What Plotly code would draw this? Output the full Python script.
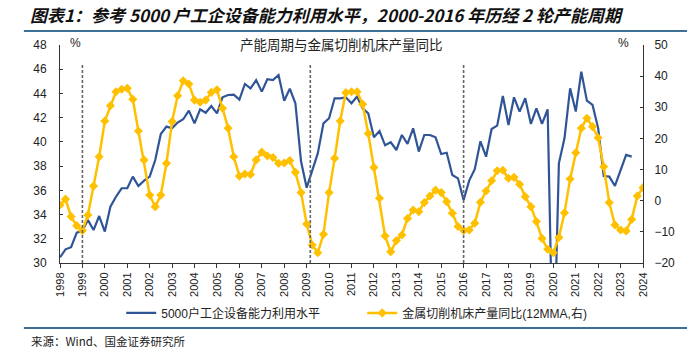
import pandas as pd
import plotly.graph_objects as go

# Quarterly observations
START = "1998-01-01"

util_5000 = [
    30.47, 31.13, 31.3, 32.5,      # 1998
    32.67, 33.55, 32.72, 33.88,    # 1999
    32.6, 34.65, 35.47, 36.17,     # 2000
    36.17, 37.13, 36.36, 36.8,     # 2001
    37.13, 38.5, 40.65, 41.26,     # 2002
    41.12, 41.6, 41.87, 42.58,     # 2003
    41.53, 42.69, 42.41, 42.96,    # 2004
    42.36, 43.68, 43.87, 43.9,     # 2005
    43.5, 44.78, 44.42, 45.1,      # 2006
    44.15, 45.17, 45.1, 45.52,     # 2007
    43.4, 44.4, 43.19, 38.4,       # 2008
    36.22, 37.68, 39.05, 41.53,    # 2009
    41.95, 43.6, 43.6, 43.68,      # 2010
    43.19, 43.74, 42.77, 42.36,    # 2011
    40.38, 40.9, 39.72, 39.97,     # 2012
    39.33, 40.57, 39.83, 41.12,    # 2013
    39.2, 40.57, 40.57, 40.38,     # 2014
    39.0, 39.1, 37.27, 36.99,      # 2015
    35.2, 36.8, 37.75, 40.05,      # 2016
    38.78, 41.06, 41.34, 43.79,    # 2017
    41.4, 43.68, 42.5, 43.6,       # 2018
    41.48, 42.77, 41.48, 42.69,    # 2019
    20.0, 38.23, 40.3, 44.42,      # 2020
    42.5, 45.8, 43.4, 43.05,       # 2021
    41.12, 37.18, 37.13, 36.36,    # 2022
    37.68, 38.92, 38.78,           # 2023
]

machine_tool_yoy = [
    -1.4, 0.5, -5.1, -8.0,         # 1998
    -9.6, -4.6, 4.7, 14.1,         # 1999
    25.6, 30.5, 35.0, 35.8,        # 2000
    36.1, 32.6, 22.4, 13.1,        # 2001
    1.8, -1.9, 1.8, 12.0,          # 2002
    25.4, 33.7, 38.5, 37.5,        # 2003
    32.3, 31.6, 32.3, 34.8,        # 2004
    35.6, 29.7, 23.3, 14.1,        # 2005
    7.9, 8.6, 8.4, 13.1,           # 2006
    15.6, 14.4, 13.9, 12.0,        # 2007
    12.1, 12.9, 9.1, 2.6,          # 2008
    -7.5, -14.2, -16.7, -10.8,     # 2009
    2.6, 13.6, 25.6, 34.7,         # 2010
    35.0, 35.0, 31.0, 21.6,        # 2011
    10.7, 0.8, -11.3, -16.4,       # 2012
    -12.8, -11.0, -5.7, -3.0,      # 2013
    -3.5, -0.6, 1.5, 3.4,          # 2014
    2.6, -0.3, -4.0, -8.3,         # 2015
    -9.6, -9.4, -7.2, -0.5,        # 2016
    3.1, 6.4, 9.6, 9.8,            # 2017
    7.2, 7.5, 5.3, 1.3,            # 2018
    -1.9, -6.7, -12.1, -15.6,      # 2019
    -16.7, -11.8, -3.9, 7.0,       # 2020
    15.4, 23.3, 26.5, 23.8,        # 2021
    20.2, 10.9, -0.6, -7.8,        # 2022
    -9.4, -9.7, -6.0, 1.5,         # 2023
    4.2,                           # 2024
]

dates_all = pd.date_range(START, periods=len(machine_tool_yoy), freq="QS")
dates_util = dates_all[:len(util_5000)]

cycle_marks = ["1999-01-01", "2009-03-01", "2016-01-01"]

SERIES1 = "5000户工企设备能力利用水平"
SERIES2 = "金属切削机床产量同比(12MMA,右)"
TITLE = "图表1：参考 5000 户工企设备能力利用水平，2000-2016 年历经 2 轮产能周期"
INNER = "产能周期与金属切削机床产量同比"
SOURCE = "来源：Wind、国金证券研究所"

BLUE = "#2F5597"
YELLOW = "#FFC000"
RULE = "#3E6F94"
CJK = "Noto Sans CJK SC"
LAT = "Liberation Sans, Arial"

fig = go.Figure()
fig.add_trace(go.Scatter(
    x=dates_util, y=util_5000, name=SERIES1, mode="lines",
    line=dict(color=BLUE, width=2.2), yaxis="y",
))
fig.add_trace(go.Scatter(
    x=dates_all, y=machine_tool_yoy, name=SERIES2, mode="lines+markers",
    line=dict(color=YELLOW, width=2.5),
    marker=dict(symbol="diamond", size=7, color=YELLOW), yaxis="y2",
))

for d in cycle_marks:
    fig.add_shape(type="line", xref="x", yref="y", x0=d, x1=d, y0=30, y1=46.5,
                  line=dict(color="#666666", width=1.6, dash="3px,2px"), layer="above")

# rules above and below
fig.add_shape(type="line", xref="paper", yref="paper", x0=-0.062, x1=1.076, y0=1.064, y1=1.064,
              line=dict(color=RULE, width=2))
fig.add_shape(type="line", xref="paper", yref="paper", x0=-0.062, x1=1.076, y0=-0.298, y1=-0.298,
              line=dict(color=RULE, width=2))

fig.update_layout(
    width=687, height=350, autosize=False,
    margin=dict(l=60, r=44, t=45, b=87),
    paper_bgcolor="white", plot_bgcolor="white",
    font=dict(family=LAT, size=12, color="#222222"),
    showlegend=True,
    legend=dict(orientation="h", x=0.105, xanchor="left", y=-0.229, yanchor="middle",
                font=dict(family=LAT + ", " + CJK, size=12, color="#222222"),
                bgcolor="rgba(0,0,0,0)", itemwidth=30, tracegroupgap=0,
                entrywidth=196, entrywidthmode="pixels"),
    xaxis=dict(
        type="date", range=["1998-01-01", "2024-01-01"],
        tick0="1998-01-01", dtick="M12", tickformat="%Y", tickangle=-90,
        ticks="outside", ticklen=4, tickcolor="#333333",
        showline=True, linecolor="#333333", linewidth=1,
        showgrid=False, zeroline=False,
        tickfont=dict(family=LAT, size=11, color="#222222"),
    ),
    yaxis=dict(
        range=[30, 48], dtick=2, tick0=30,
        ticks="inside", ticklen=3, tickcolor="#333333",
        showline=True, linecolor="#333333", linewidth=1,
        showgrid=False, zeroline=False, ticklabelstandoff=10,
        tickfont=dict(family=LAT, size=12, color="#222222"),
    ),
    yaxis2=dict(
        range=[-20, 50], dtick=10, tick0=-20, overlaying="y", side="right",
        ticks="inside", ticklen=3, tickcolor="#333333",
        showline=True, linecolor="#333333", linewidth=1,
        showgrid=False, zeroline=False, ticklabelstandoff=8,
        tickfont=dict(family=LAT, size=12, color="#222222"),
    ),
)

fig.add_annotation(text=TITLE, xref="paper", yref="paper", x=-0.055, y=1.138,
                   xanchor="left", yanchor="middle", showarrow=False,
                   font=dict(family=CJK, size=17, color="#111111", weight="bold", style="italic"))
fig.add_annotation(text=INNER, xref="paper", yref="paper", x=0.483, y=1.003,
                   xanchor="center", yanchor="middle", showarrow=False,
                   font=dict(family=CJK, size=13.5, color="#222222"))
fig.add_annotation(text="%", xref="paper", yref="paper", x=0.027, y=1.009,
                   xanchor="center", yanchor="middle", showarrow=False,
                   font=dict(family=LAT, size=12, color="#222222"))
fig.add_annotation(text="%", xref="paper", yref="paper", x=0.966, y=1.009,
                   xanchor="center", yanchor="middle", showarrow=False,
                   font=dict(family=LAT, size=12, color="#222222"))
fig.add_annotation(text=SOURCE, xref="paper", yref="paper", x=-0.054, y=-0.358,
                   xanchor="left", yanchor="middle", showarrow=False,
                   font=dict(family=CJK, size=11.5, color="#222222"))

fig.write_html("out.html")
